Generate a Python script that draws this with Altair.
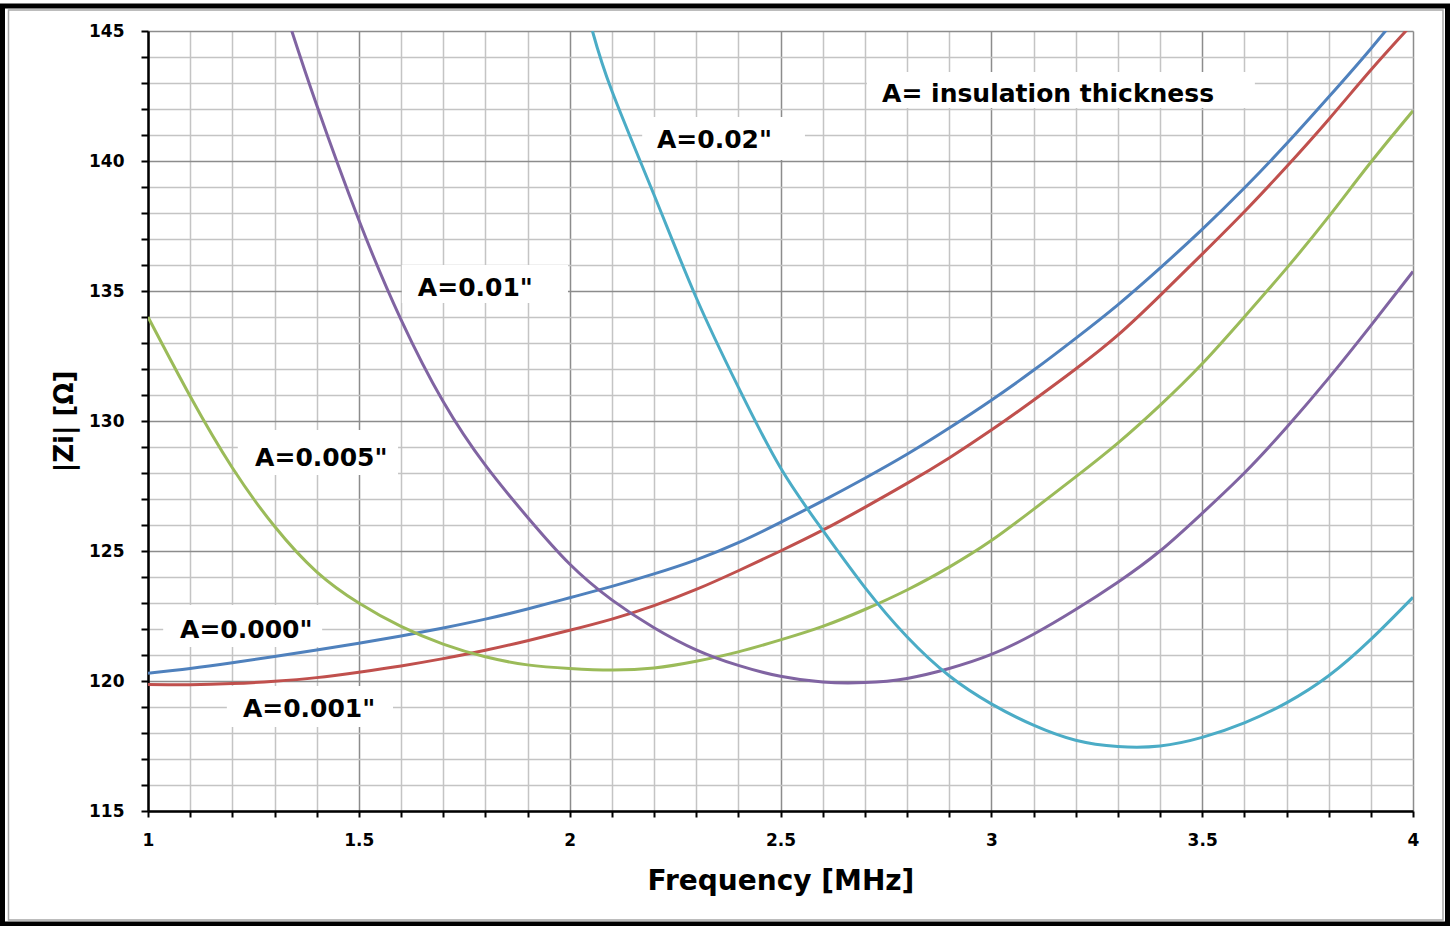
import altair as alt
import pandas as pd

# ---------------- data ----------------
SERIES = ['A=0.000"', 'A=0.001"', 'A=0.005"', 'A=0.01"', 'A=0.02"']
COLORS = ["#4F81BD", "#C0504D", "#9BBB59", "#8064A2", "#4BACC6"]

# (last points of the first two series lie just above the visible range and are clipped)
f_000 = [1.0, 1.1, 1.2, 1.3, 1.4, 1.5, 1.6, 1.7, 1.8, 1.9, 2.0, 2.1, 2.2, 2.3, 2.4, 2.5,
         2.6, 2.7, 2.8, 2.9, 3.0, 3.1, 3.2, 3.3, 3.4, 3.5, 3.6, 3.7, 3.8, 3.9, 4.0]
z_000 = [120.30, 120.48, 120.70, 120.94, 121.19, 121.45, 121.73, 122.04, 122.38, 122.77,
         123.20, 123.64, 124.12, 124.66, 125.32, 126.10, 126.93, 127.80, 128.72, 129.73,
         130.80, 131.95, 133.18, 134.47, 135.88, 137.37, 138.96, 140.66, 142.46, 144.32, 146.30]

f_001 = [1.0, 1.1, 1.2, 1.3, 1.4, 1.5, 1.6, 1.7, 1.8, 1.9, 2.0, 2.1, 2.2, 2.3, 2.4, 2.5,
         2.6, 2.7, 2.8, 2.9, 3.0, 3.1, 3.2, 3.3, 3.4, 3.5, 3.6, 3.7, 3.8, 3.9, 4.0]
z_001 = [119.87, 119.86, 119.90, 119.99, 120.13, 120.34, 120.58, 120.86, 121.18, 121.55,
         121.95, 122.38, 122.90, 123.52, 124.24, 125.00, 125.80, 126.68, 127.60, 128.58,
         129.65, 130.80, 132.00, 133.30, 134.82, 136.42, 138.05, 139.78, 141.60, 143.50, 145.30]

f_005 = [1.0, 1.1, 1.2, 1.3, 1.4, 1.5, 1.6, 1.7, 1.8, 1.9, 2.0, 2.1, 2.2, 2.3, 2.4, 2.5,
         2.6, 2.7, 2.8, 2.9, 3.0, 3.1, 3.2, 3.3, 3.4, 3.5, 3.6, 3.7, 3.8, 3.9, 4.0]
z_005 = [134.00, 130.95, 128.20, 125.95, 124.20, 123.00, 122.10, 121.42, 120.93, 120.62,
         120.48, 120.42, 120.50, 120.76, 121.12, 121.58, 122.10, 122.75, 123.50, 124.38,
         125.40, 126.60, 127.85, 129.15, 130.60, 132.20, 134.00, 135.87, 137.86, 139.95, 141.93]

f_010 = [1.341, 1.4, 1.5, 1.6, 1.7, 1.8, 1.9, 2.0, 2.1, 2.2, 2.3, 2.4, 2.5,
         2.6, 2.7, 2.8, 2.9, 3.0, 3.1, 3.2, 3.3, 3.4, 3.5, 3.6, 3.7, 3.8, 3.9, 4.0]
z_010 = [145.0, 142.15, 137.73, 133.90, 130.75, 128.30, 126.30, 124.50, 123.12, 122.05,
         121.20, 120.60, 120.18, 119.96, 119.94, 120.10, 120.48, 121.02, 121.80, 122.75,
         123.80, 125.00, 126.45, 128.00, 129.75, 131.65, 133.67, 135.75]

f_020 = [2.054, 2.1, 2.2, 2.3, 2.4, 2.5, 2.6, 2.7, 2.8, 2.9, 3.0, 3.1, 3.2, 3.3, 3.4,
         3.5, 3.6, 3.7, 3.8, 3.9, 4.0]
z_020 = [145.0, 142.70, 138.70, 134.75, 131.30, 128.20, 125.80, 123.60, 121.70, 120.20,
         119.12, 118.30, 117.72, 117.48, 117.50, 117.83, 118.39, 119.16, 120.20, 121.60, 123.22]

X_TICKS = [1.0, 1.1, 1.2, 1.3, 1.4, 1.5, 1.6, 1.7, 1.8, 1.9, 2.0, 2.1, 2.2, 2.3, 2.4, 2.5,
           2.6, 2.7, 2.8, 2.9, 3.0, 3.1, 3.2, 3.3, 3.4, 3.5, 3.6, 3.7, 3.8, 3.9, 4.0]
Y_TICKS = list(range(115, 146))

# annotation texts with anchor (left x, middle y) in data units
LABEL_TEXT = ['A=0.02"', 'A= insulation thickness', 'A=0.01"', 'A=0.005"', 'A=0.000"', 'A=0.001"']
LABEL_F = [2.207, 2.741, 1.640, 1.254, 1.076, 1.225]
LABEL_Z = [140.81, 142.58, 135.12, 128.58, 121.96, 118.92]
# white boxes behind the annotations (data units)
BOX_F1 = [2.172, 2.705, 1.602, 1.213, 1.036, 1.187]
BOX_F2 = [2.558, 3.625, 1.996, 1.593, 1.413, 1.581]
BOX_Z1 = [140.04, 142.04, 134.54, 127.92, 121.31, 118.23]
BOX_Z2 = [141.69, 143.42, 136.00, 129.65, 122.92, 119.81]

# ---------------- build tables ----------------
rows = []
for name, fs, zs in zip(SERIES, [f_000, f_001, f_005, f_010, f_020],
                        [z_000, z_001, z_005, z_010, z_020]):
    for f, z in zip(fs, zs):
        rows.append({"series": name, "f": f, "z": z})
lines_df = pd.DataFrame(rows)

labels_df = pd.DataFrame({"text": LABEL_TEXT, "f": LABEL_F, "z": LABEL_Z})
boxes_df = pd.DataFrame({"f1": BOX_F1, "f2": BOX_F2, "z1": BOX_Z1, "z2": BOX_Z2})

FONT = "DejaVu Sans"
x_scale = alt.Scale(domain=[1, 4], nice=False, zero=False)
y_scale = alt.Scale(domain=[115, 145], nice=False, zero=False)

major_x = "abs(datum.value*2 - round(datum.value*2)) < 1e-6"
major_y = "abs(datum.value/5 - round(datum.value/5)) < 1e-6"

x_axis = alt.Axis(
    values=X_TICKS,
    title="Frequency [MHz]",
    labelExpr=f"({major_x}) ? format(datum.value, '~g') : ''",
    labelFont=FONT, labelFontWeight="bold", labelFontSize=17, labelColor="black",
    labelBaseline="alphabetic", labelPadding=28, labelFlush=False, labelOverlap=False,
    tickColor="black", tickWidth=2, tickSize=6,
    domainColor="black", domainWidth=2.5,
    grid=True, gridWidth=1.5,
    gridColor={"condition": {"test": major_x, "value": "#8c8c8c"}, "value": "#c4c4c4"},
    titleFont=FONT, titleFontWeight="bold", titleFontSize=28, titleColor="black",
    titleBaseline="alphabetic", titleY=78, titleX=632.5, titleAlign="center",
)
y_axis = alt.Axis(
    values=Y_TICKS,
    title="|Zi| [Ω]",
    labelExpr=f"({major_y}) ? format(datum.value, '~g') : ''",
    labelFont=FONT, labelFontWeight="bold", labelFontSize=17, labelColor="black",
    labelPadding=17, labelFlush=False, labelOverlap=False,
    tickColor="black", tickWidth=2, tickSize=7,
    domainColor="black", domainWidth=2.5,
    grid=True, gridWidth=1.5,
    gridColor={"condition": {"test": major_y, "value": "#8c8c8c"}, "value": "#c4c4c4"},
    titleFont=FONT, titleFontWeight="bold", titleFontSize=26, titleColor="black",
    titleAngle=270, titleBaseline="alphabetic", titleX=-76, titleY=390, titleAlign="center",
)

lines = alt.Chart(lines_df).mark_line(strokeWidth=3, interpolate="natural", clip=True).encode(
    x=alt.X("f:Q", scale=x_scale, axis=x_axis),
    y=alt.Y("z:Q", scale=y_scale, axis=y_axis),
    color=alt.Color("series:N", scale=alt.Scale(domain=SERIES, range=COLORS), legend=None),
    detail="series:N",
)

boxes = alt.Chart(boxes_df).mark_rect(fill="white", stroke=None).encode(
    x=alt.X("f1:Q", scale=x_scale, axis=x_axis),
    x2="f2:Q",
    y=alt.Y("z1:Q", scale=y_scale, axis=y_axis),
    y2="z2:Q",
)

texts = alt.Chart(labels_df).mark_text(
    align="left", baseline="middle", font=FONT, fontWeight="bold", fontSize=25, color="black"
).encode(
    x=alt.X("f:Q", scale=x_scale, axis=x_axis),
    y=alt.Y("z:Q", scale=y_scale, axis=y_axis),
    text="text:N",
)

frame_outer = alt.Chart(alt.Data(values=[{"k": 1}])).mark_rect(
    fill="transparent", stroke="black", strokeWidth=5, clip=False
).encode(x=alt.value(-145.5), x2=alt.value(1299.5), y=alt.value(-25), y2=alt.value(893))

frame_inner = alt.Chart(alt.Data(values=[{"k": 1}])).mark_rect(
    fill="transparent", stroke="#a6a6a6", strokeWidth=1.5, clip=False
).encode(x=alt.value(-139.5), x2=alt.value(1295), y=alt.value(-21), y2=alt.value(889))

chart = alt.layer(boxes, lines, texts, frame_inner, frame_outer).properties(
    width=1265, height=780,
    padding={"left": 148, "top": 31, "right": 43, "bottom": 115},
    autosize=alt.AutoSizeParams(type="none"),
    background="white",
).configure_view(stroke=None)

chart.save("out.html", embed_options={"renderer": "svg", "actions": False})
